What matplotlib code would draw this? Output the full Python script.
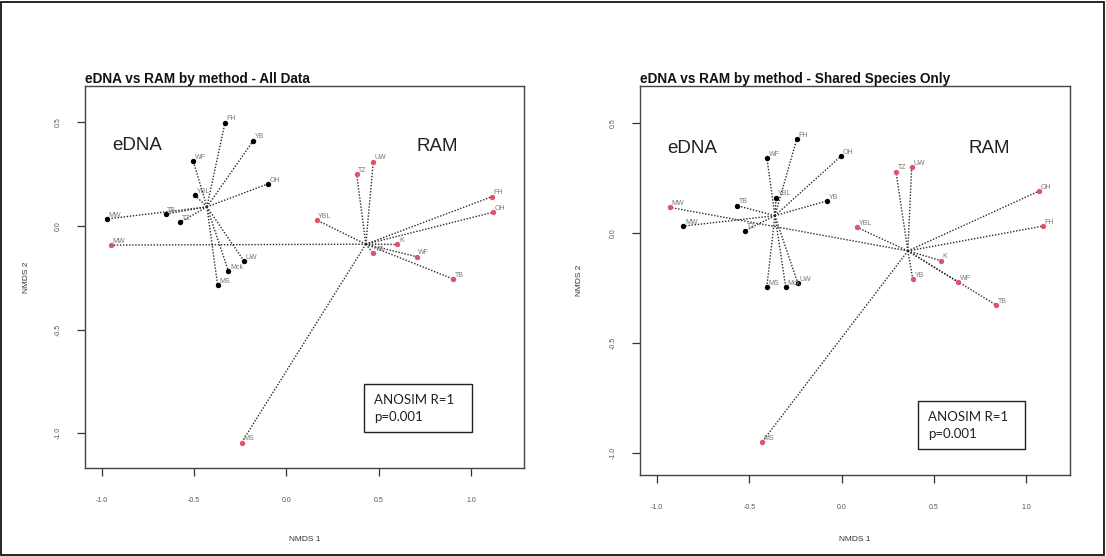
import matplotlib
matplotlib.use("Agg")
import matplotlib.pyplot as plt
from matplotlib.patches import Rectangle
import numpy as np

# ---- data: All Data panel ----
left_edna_labels = ["FH", "YB", "WF", "OH", "YBL", "TB", "MW", "TZ", "UW", "Mck", "MS"]
left_edna_x = [-0.333, -0.180, -0.505, -0.102, -0.497, -0.654, -0.973, -0.577, -0.230, -0.315, -0.373]
left_edna_y = [0.499, 0.412, 0.314, 0.203, 0.150, 0.058, 0.034, 0.018, -0.169, -0.216, -0.285]
left_ram_labels = ["UW", "TZ", "FH", "OH", "YBL", "K", "YB", "WF", "TB", "MS", "MW"]
left_ram_x = [0.470, 0.380, 1.113, 1.116, 0.163, 0.600, 0.470, 0.705, 0.903, -0.243, -0.952]
left_ram_y = [0.311, 0.250, 0.142, 0.066, 0.029, -0.089, -0.132, -0.148, -0.256, -1.045, -0.092]

# ---- data: Shared Species Only panel ----
right_edna_labels = ["FH", "OH", "WF", "YBL", "YB", "TB", "MW", "TZ", "MS", "Mck", "UW"]
right_edna_x = [-0.243, -0.003, -0.404, -0.355, -0.077, -0.566, -0.857, -0.523, -0.405, -0.302, -0.237]
right_edna_y = [0.427, 0.351, 0.341, 0.162, 0.148, 0.126, 0.033, 0.012, -0.245, -0.245, -0.227]
right_ram_labels = ["TZ", "UW", "OH", "FH", "YBL", "K", "YB", "WF", "TB", "MS", "MW"]
right_ram_x = [0.295, 0.380, 1.070, 1.092, 0.084, 0.538, 0.386, 0.633, 0.837, -0.431, -0.930]
right_ram_y = [0.280, 0.300, 0.192, 0.033, 0.027, -0.124, -0.208, -0.223, -0.326, -0.949, 0.118]

titles = ["eDNA vs RAM by method - All Data", "eDNA vs RAM by method - Shared Species Only"]
group_names = ["eDNA", "RAM"]
anosim_text = ["ANOSIM R=1", "p=0.001"]
xticks = [-1.0, -0.5, 0.0, 0.5, 1.0]
xtick_labels = ["-1.0", "-0.5", "0.0", "0.5", "1.0"]
yticks = [-1.0, -0.5, 0.0, 0.5]
ytick_labels = ["-1.0", "-0.5", "0.0", "0.5"]

EDNA_COL = "black"
RAM_COL = "#DF536B"

W, H = 1106, 556
fig = plt.figure(figsize=(W / 100, H / 100), dpi=100)
fig.patch.set_facecolor("white")

def fx(px):
    return px / W

def fy(py):
    return 1 - py / H

# axes boxes in pixel coords (left, top, right, bottom)
boxes = [(85, 86, 524, 468), (640, 86, 1070, 475)]
xlims = [(-1.091, 1.286), (-1.092, 1.238)]
ylims = [(-1.168, 0.676), (-1.099, 0.670)]
grp_pos = [((-0.81, 0.39), (0.815, 0.382)), ((-0.81, 0.388), (0.80, 0.388))]
ylab_x = [-0.125, -0.1326]
xlab_y = [-0.178, -0.157]
anosim_boxes = [(364, 384, 472, 432), (918, 401, 1025, 449)]

panels = [
    (left_edna_labels, left_edna_x, left_edna_y, left_ram_labels, left_ram_x, left_ram_y),
    (right_edna_labels, right_edna_x, right_edna_y, right_ram_labels, right_ram_x, right_ram_y),
]

for i, (el, ex, ey, rl, rx, ry) in enumerate(panels):
    l, t, r, b = boxes[i]
    ax = fig.add_axes([fx(l), fy(b), fx(r - l), (b - t) / H])

    for labs, xs, ys, col in ((el, ex, ey, EDNA_COL), (rl, rx, ry, RAM_COL)):
        xs = np.asarray(xs)
        ys = np.asarray(ys)
        cx, cy = xs.mean(), ys.mean()
        for x, y in zip(xs, ys):
            ax.plot([cx, x], [cy, y], color="#2a2a2a", lw=1.0,
                    linestyle=(0, (1.0, 1.2)), zorder=2)
        ax.scatter(xs, ys, s=15, color=col, zorder=3, linewidths=0)
        for lab, x, y in zip(labs, xs, ys):
            ax.annotate(lab, (x, y), xytext=(1.2, 0.2), textcoords="offset points",
                        ha="left", va="bottom", fontsize=5, color="#777777",
                        family="Liberation Sans", zorder=4)

    (gx1, gy1), (gx2, gy2) = grp_pos[i]
    ax.text(gx1, gy1, group_names[0], fontsize=13.5, ha="center", va="center",
            color="#222222", family="Liberation Sans")
    ax.text(gx2, gy2, group_names[1], fontsize=13.5, ha="center", va="center",
            color="#222222", family="Liberation Sans")

    ax.set_title(titles[i], loc="left", fontsize=9.8, fontweight="bold",
                 family="Liberation Sans", pad=2.5, color="#111111")

    ax.set_xticks(xticks)
    ax.set_xticklabels(xtick_labels)
    ax.set_yticks(yticks)
    ax.set_yticklabels(ytick_labels, rotation=90, va="center")
    ax.set_xlim(*xlims[i])
    ax.set_ylim(*ylims[i])
    ax.tick_params(axis="both", direction="out", length=6, width=0.9,
                   color="#333333", labelsize=5, labelcolor="#555555")
    ax.tick_params(axis="x", pad=15)
    ax.tick_params(axis="y", pad=11)
    for lab in ax.get_xticklabels() + ax.get_yticklabels():
        lab.set_family("Liberation Sans")
    for sp in ax.spines.values():
        sp.set_color("#444444")
        sp.set_linewidth(1.0)

    ax.set_xlabel("NMDS 1", fontsize=6, color="#333333", family="Liberation Sans")
    ax.set_ylabel("NMDS 2", fontsize=6, color="#333333", family="Liberation Sans")
    ax.xaxis.set_label_coords(0.5, xlab_y[i])
    ax.yaxis.set_label_coords(ylab_x[i], 0.5)

    # ANOSIM annotation box (figure overlay)
    bl, bt, br, bb = anosim_boxes[i]
    fig.add_artist(Rectangle((fx(bl), fy(bb)), fx(br - bl), (bb - bt) / H,
                             transform=fig.transFigure, fill=True, facecolor="white",
                             edgecolor="#222222", lw=1.0, zorder=5))
    fig.text(fx(bl + 10), fy(bt + 16), anosim_text[0], fontsize=9.5, family="Lato",
             ha="left", va="center", color="#222222", zorder=6)
    fig.text(fx(bl + 10), fy(bt + 33), anosim_text[1], fontsize=9.5, family="Lato",
             ha="left", va="center", color="#222222", zorder=6)

# outer frame
fig.add_artist(Rectangle((0.001, 0.002), 0.997, 0.995, transform=fig.transFigure,
                         fill=False, edgecolor="black", lw=1.2))

fig.savefig("out.png", dpi=100)
